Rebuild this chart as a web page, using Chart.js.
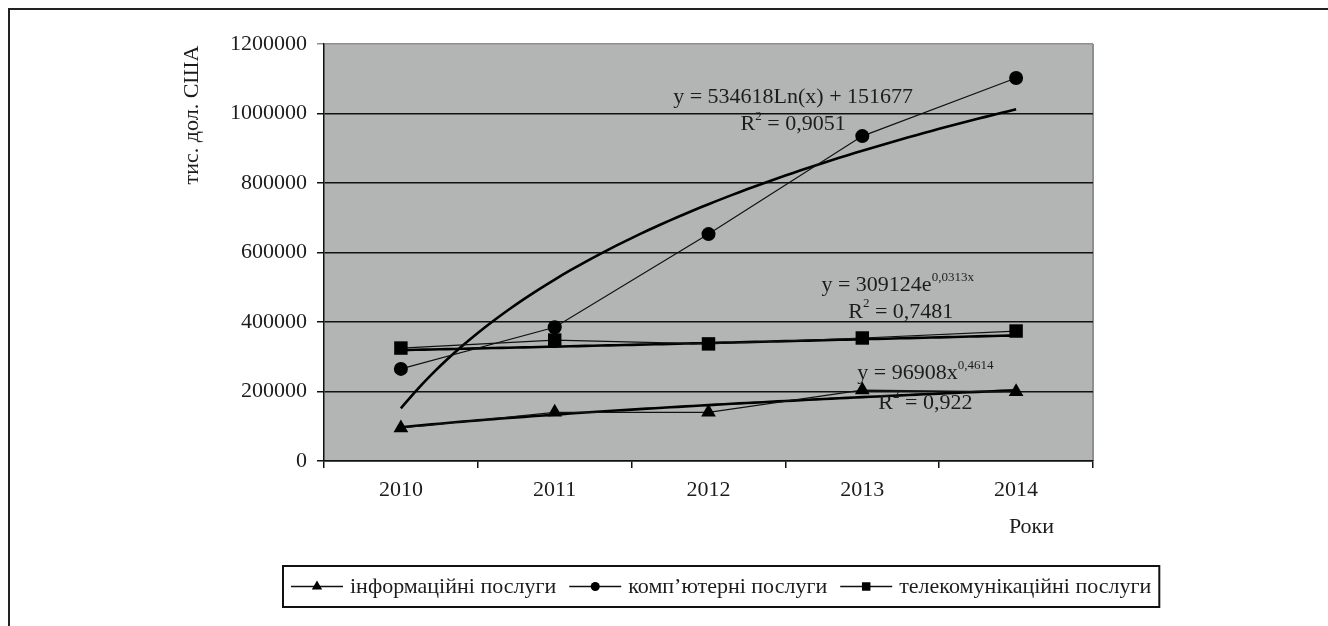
<!DOCTYPE html>
<html lang="uk">
<head>
<meta charset="utf-8">
<title>Послуги, тис. дол. США</title>
<script src="https://cdn.jsdelivr.net/npm/chart.js@4.4.1/dist/chart.umd.min.js"></script>
<style>
  html, body { margin: 0; padding: 0; background: #fff; }
  #chart { display: block; }
</style>
</head>
<body>
<canvas id="chart" width="1328" height="626"></canvas>
<script>
// Дані
const years = [2010, 2011, 2012, 2013, 2014];
const yTicks = [0, 200000, 400000, 600000, 800000, 1000000, 1200000];
const infoValues = [95000, 140000, 140000, 204000, 199000];
const compValues = [265000, 385000, 653000, 935000, 1102000];
const telecomValues = [325000, 348000, 337000, 354000, 374000];
const seriesNames = ['інформаційні послуги', 'комп\u2019ютерні послуги', 'телекомунікаційні послуги'];

// Коефіцієнти ліній тренду, як підписано на графіку (x = 1..5)
const logFit = [534618, 151677];   // y = a*Ln(x) + b
const expFit = [309124, 0.0313];   // y = a*e^(bx)
const powFit = [96908, 0.4614];    // y = a*x^b

const FONT = '"Liberation Serif", "Times New Roman", serif';
const INK = '#1c1c1c';

function trend(fn) {
  const pts = [];
  for (let i = 0; i <= 40; i++) {
    const x = 1 + i / 10;
    pts.push({ x: years[0] - 1 + x, y: fn(x) });
  }
  return pts;
}
const toPoints = vals => vals.map((v, i) => ({ x: years[i], y: v }));

// Підписи рівнянь (прив'язані до координат даних)
const fitLabels = [
  { x: 2012.55, y: 1048000, segs: [['y = 534618Ln(x) + 151677', 0]] },
  { x: 2012.55, y: 968000, segs: [['R', 0], ['2', 1], [' = 0,9051', 0]] },
  { x: 2013.23, y: 506000, segs: [['y = 309124e', 0], ['0,0313x', 1]] },
  { x: 2013.25, y: 429000, segs: [['R', 0], ['2', 1], [' = 0,7481', 0]] },
  { x: 2013.41, y: 253000, segs: [['y = 96908x', 0], ['0,4614', 1]] },
  { x: 2013.41, y: 167000, segs: [['R', 0], ['2', 1], [' = 0,922', 0]] }
];

function drawSegs(ctx, segs, cx, cy) {
  const base = '22px ' + FONT, sup = '13px ' + FONT;
  let total = 0;
  segs.forEach(([t, s]) => { ctx.font = s ? sup : base; total += ctx.measureText(t).width; });
  let x = cx - total / 2;
  ctx.textAlign = 'left';
  ctx.textBaseline = 'middle';
  segs.forEach(([t, s]) => {
    ctx.font = s ? sup : base;
    ctx.fillText(t, x, s ? cy - 8 : cy);
    x += ctx.measureText(t).width;
  });
}

function drawMarker(ctx, style, x, y, r) {
  ctx.beginPath();
  if (style === 'triangle') {
    ctx.moveTo(x, y - r);
    ctx.lineTo(x + r * 0.866, y + r * 0.5);
    ctx.lineTo(x - r * 0.866, y + r * 0.5);
    ctx.closePath();
  } else if (style === 'rect') {
    ctx.rect(x - r * 0.707, y - r * 0.707, r * 1.414, r * 1.414);
  } else {
    ctx.arc(x, y, r, 0, Math.PI * 2);
  }
  ctx.fill();
}

const decor = {
  id: 'decor',
  beforeDraw(chart) {
    const { ctx, chartArea: a } = chart;
    ctx.save();
    ctx.fillStyle = '#fff';
    ctx.fillRect(0, 0, chart.width, chart.height);
    // зовнішня рамка
    ctx.strokeStyle = '#222';
    ctx.lineWidth = 2;
    ctx.beginPath();
    ctx.moveTo(9, chart.height);
    ctx.lineTo(9, 9);
    ctx.lineTo(chart.width, 9);
    ctx.stroke();
    // фон області побудови
    ctx.fillStyle = '#b3b5b5';
    ctx.fillRect(a.left, a.top, a.right - a.left, a.bottom - a.top);
    ctx.strokeStyle = '#8e9090';
    ctx.lineWidth = 2;
    ctx.beginPath();
    ctx.moveTo(a.right, a.top);
    ctx.lineTo(a.right, a.bottom);
    ctx.stroke();
    ctx.restore();
  },
  afterDraw(chart) {
    const { ctx, chartArea: a } = chart;
    const xs = chart.scales.xv, ys = chart.scales.y;
    ctx.save();
    ctx.fillStyle = INK;
    fitLabels.forEach(l => drawSegs(ctx, l.segs, xs.getPixelForValue(l.x), ys.getPixelForValue(l.y)));

    ctx.font = '22px ' + FONT;
    ctx.textAlign = 'center';
    ctx.textBaseline = 'middle';
    ctx.fillText('Роки', xs.getPixelForValue(2014.1), a.bottom + 66);

    // підпис осі Y
    ctx.save();
    ctx.translate(192, a.top + 71);
    ctx.rotate(-Math.PI / 2);
    ctx.fillText('тис. дол. США', 0, 0);
    ctx.restore();

    // легенда
    const styles = ['triangle', 'circle', 'rect'];
    const lineW = 52, gapT = 7, gapI = 13, padL = 8, padR = 8;
    const widths = seriesNames.map(n => ctx.measureText(n).width);
    let boxW = padL + padR;
    widths.forEach((w, i) => { boxW += lineW + gapT + w + (i < 2 ? gapI : 0); });
    const boxX = Math.round(721 - boxW / 2), boxY = 566, boxH = 41;
    ctx.strokeStyle = '#111';
    ctx.lineWidth = 2;
    ctx.strokeRect(boxX, boxY, boxW, boxH);
    let x = boxX + padL;
    const cy = boxY + boxH / 2;
    ctx.textAlign = 'left';
    seriesNames.forEach((n, i) => {
      ctx.strokeStyle = '#111';
      ctx.lineWidth = 1.5;
      ctx.beginPath();
      ctx.moveTo(x, cy);
      ctx.lineTo(x + lineW, cy);
      ctx.stroke();
      ctx.fillStyle = '#000';
      drawMarker(ctx, styles[i], x + lineW / 2, cy, styles[i] === 'circle' ? 4.5 : 6);
      ctx.fillStyle = INK;
      ctx.fillText(n, x + lineW + gapT, cy + 1);
      x += lineW + gapT + widths[i] + gapI;
    });
    ctx.restore();
  }
};

const dataLine = (label, vals, style, r) => ({
  label, data: toPoints(vals), xAxisID: 'xv',
  borderColor: '#111', borderWidth: 1.2, pointStyle: style,
  pointRadius: r, pointBackgroundColor: '#000', pointBorderWidth: 0, tension: 0
});
const trendLine = pts => ({
  data: pts, xAxisID: 'xv', borderColor: '#000', borderWidth: 2.6,
  pointRadius: 0, tension: 0.3
});

new Chart(document.getElementById('chart'), {
  type: 'line',
  data: {
    labels: years.map(String),
    datasets: [
      dataLine(seriesNames[0], infoValues, 'triangle', 8.5),
      dataLine(seriesNames[1], compValues, 'circle', 7),
      dataLine(seriesNames[2], telecomValues, 'rect', 9.5),
      trendLine(trend(x => powFit[0] * Math.pow(x, powFit[1]))),
      trendLine(trend(x => logFit[0] * Math.log(x) + logFit[1])),
      trendLine(trend(x => expFit[0] * Math.exp(expFit[1] * x)))
    ]
  },
  options: {
    responsive: false,
    animation: false,
    layout: { padding: { top: 44, right: 235, left: 0, bottom: 0 } },
    plugins: { legend: { display: false }, tooltip: { enabled: false } },
    scales: {
      x: {
        type: 'category', position: 'bottom', offset: true,
        grid: { offset: true, drawOnChartArea: false, tickLength: 7, color: '#111', lineWidth: 1.5 },
        border: { color: '#111', width: 1.5 },
        ticks: { color: INK, padding: 9, font: { family: FONT, size: 22 }, maxRotation: 0 },
        afterFit: s => { s.height = 165; }
      },
      xv: { type: 'linear', display: false, min: years[0] - 0.5, max: years[years.length - 1] + 0.5 },
      y: {
        min: yTicks[0], max: yTicks[yTicks.length - 1],
        afterBuildTicks: s => { s.ticks = yTicks.map(v => ({ value: v })); },
        grid: {
          tickLength: 7, lineWidth: 1.5,
          color: c => (c.tick && c.tick.value === yTicks[yTicks.length - 1]) ? '#8e9090' : '#111'
        },
        border: { color: '#111', width: 1.5 },
        ticks: { color: INK, padding: 10, font: { family: FONT, size: 22 }, callback: v => String(v) },
        afterFit: s => { s.width = 324; }
      }
    }
  },
  plugins: [decor]
});
</script>
</body>
</html>
